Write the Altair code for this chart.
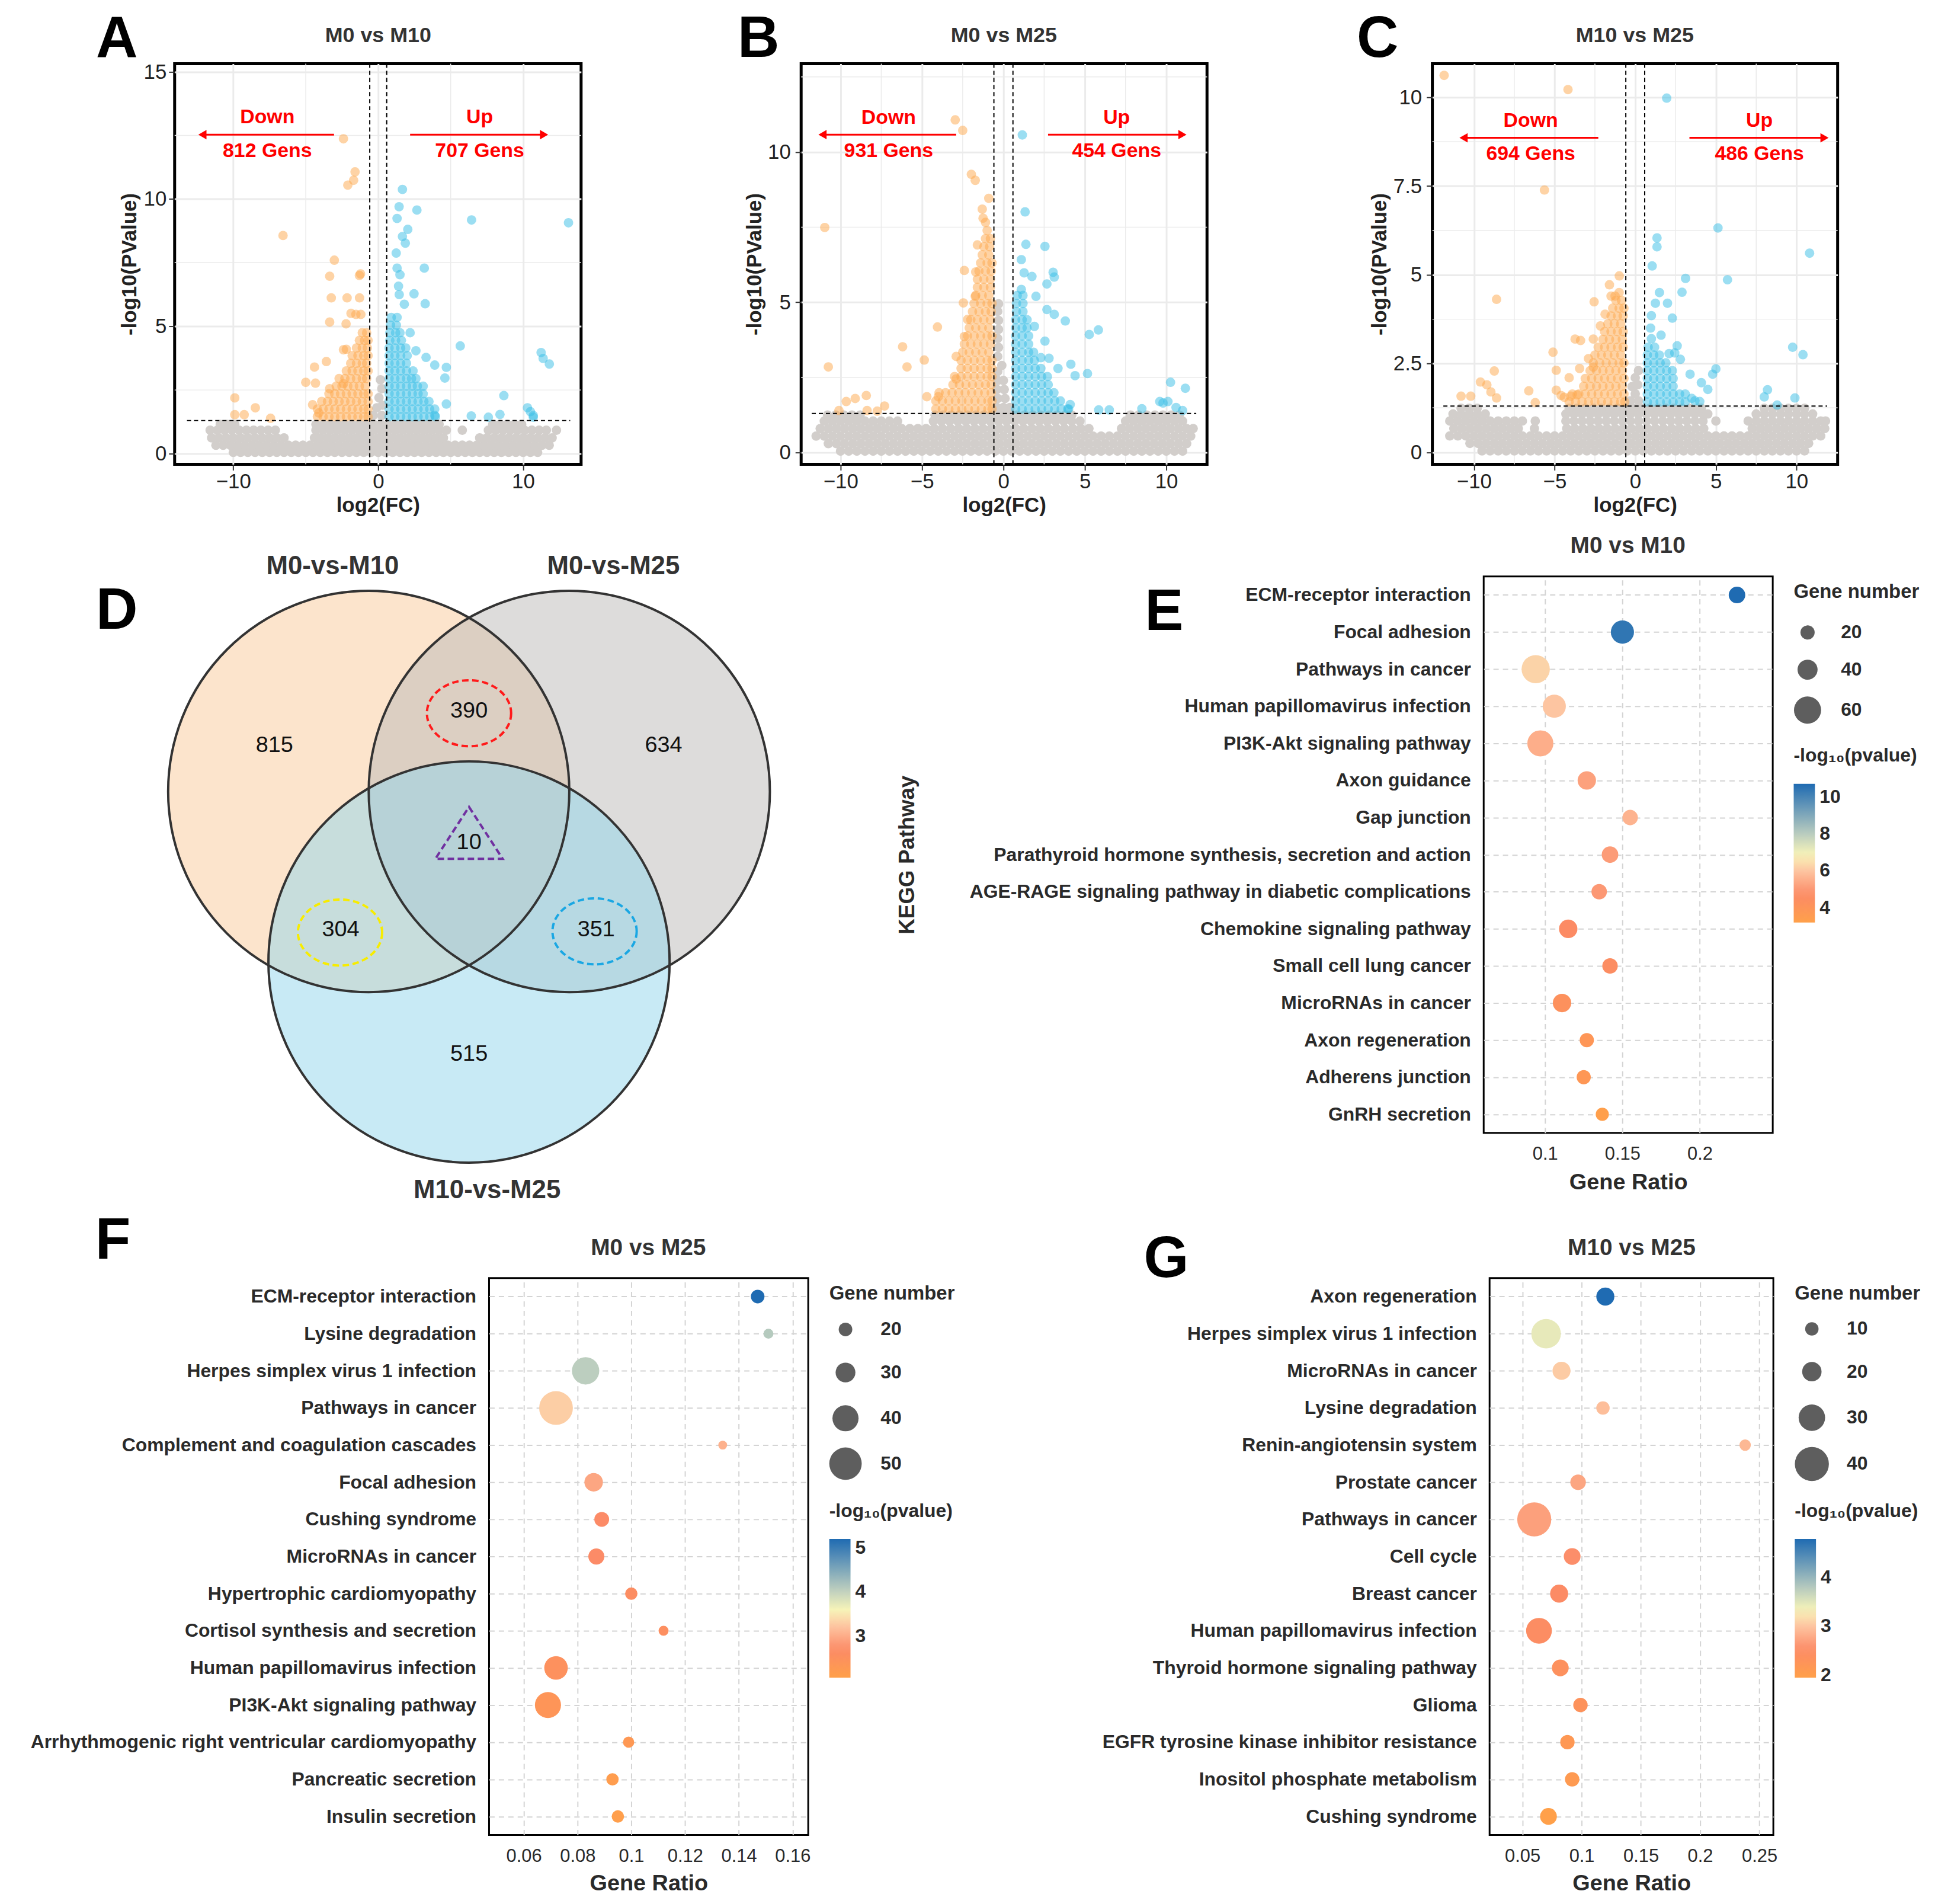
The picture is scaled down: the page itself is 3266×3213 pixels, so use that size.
import altair as alt
import pandas as pd

FONT = "Liberation Sans"
INK = "#2a2a2a"
GRAY, ORANGE, BLUE = "#D2CECB", "#FDA84C", "#38BDE6"
FC_CUT, P_CUT = 0.585, 1.301

# ======================= DATA =======================
# ---- Volcano A : M0 vs M10  (rows: -log10P -> list of log2FC) ----
A_gray_rows = {
    0.05: "-10 -9.5 -9 -8.5 -8 -7.5 -7 -6.5 -6 -5.5 -5 -4.5 -4 -3.5 -3 -2.5 -2 -1.5 -1 -0.5 0 0.5 1 1.5 2 2.5 3 3.5 4 4.5 5 5.5 6 6.5 7 7.5 8 8.5 9 9.5 10 10.5 11",
    0.33: "-11.2 -10.7 -10.2 -9.7 -9.2 -8.7 -8.2 -7.7 -7.2 -6.7 -6.2 -5.7 -5.2 -4.7 -4.2 -3.7 -3.2 -2.7 -2.2 -1.7 -1.2 -0.7 -0.2 0.3 0.8 1.3 1.8 2.3 2.8 3.3 3.8 4.3 4.8 5.3 5.8 6.3 6.8 7.3 7.8 8.3 8.8 9.3 9.8 10.3 10.8 11.3 11.8",
    0.62: "-11.5 -11 -10.5 -10 -9.5 -9 -8.5 -8 -7.5 -7 -6.5 -4.4 -4 -3.5 -3 -2.5 -2 -1.5 -1 -0.5 0 0.5 1 1.5 2 2.5 3 3.5 4 4.5 7 7.5 8 8.5 9 9.5 10 10.5 11 11.5 12",
    0.92: "-11.6 -11.1 -10.6 -10.1 -9.6 -9.1 -8.6 -8.1 -7.6 -7.1 -4.3 -3.8 -3.3 -2.8 -2.3 -1.8 -1.3 -0.8 -0.3 0.2 0.7 1.2 1.7 2.2 2.7 3.2 3.7 4.2 4.7 5.8 7.6 8.1 8.6 9.1 9.6 10.1 10.6 11.1 11.6 12.3",
    1.15: "-10.9 -10.4 -9.9 -4.3 -3.8 -3.3 -2.8 -2.3 -1.8 -1.3 -0.8 -0.3 0.2 0.7 1.2 1.7 2.2 2.7 3.2 3.7 4.2 7.9 8.4 8.9 9.4 9.9",
}
A_gray_pts = [(-0.35, 1.5), (0.25, 1.5), (-0.1, 1.8), (0.3, 1.9), (0.05, 2.2), (0.25, 2.55), (0.15, 2.9)]
A_down_rows = {
    1.45: "-4.2 -3.8 -3.4 -3 -2.6 -2.2 -1.8 -1.4 -1 -0.7",
    1.75: "-4.2 -3.8 -3.4 -3 -2.6 -2.2 -1.8 -1.4 -1 -0.7",
    2.05: "-3.9 -3.5 -3.1 -2.7 -2.3 -1.9 -1.5 -1.1 -0.7",
    2.35: "-3.4 -3 -2.6 -2.2 -1.8 -1.4 -1 -0.7",
    2.65: "-2.9 -2.5 -2.1 -1.7 -1.3 -0.9",
    2.95: "-2.7 -2.3 -1.9 -1.5 -1.1 -0.8",
    3.25: "-2.2 -1.8 -1.4 -1 -0.7",
    3.55: "-1.9 -1.5 -1.1 -0.8",
    3.85: "-1.8 -1.4 -1 -0.7",
    4.15: "-1.5 -1.1 -0.75",
    4.45: "-1.3 -0.95 -0.7",
    4.75: "-1.1 -0.8",
}
A_down_pts = [(-2.4, 12.37), (-1.6, 11.07), (-1.7, 10.74), (-2.1, 10.55), (-6.57, 8.57), (-3.03, 7.6), (-3.35, 6.97),
              (-1.22, 7.06), (-1.3, 7.0), (-3.24, 6.12), (-2.15, 6.12), (-1.29, 6.12), (-1.88, 5.51), (-1.54, 5.47),
              (-1.2, 5.47), (-3.35, 5.17), (-2.22, 5.1), (-2.4, 4.08), (-2.2, 4.1), (-3.58, 3.62), (-4.4, 3.4),
              (-5.0, 2.8), (-4.33, 2.77), (-2.4, 2.75), (-3.35, 2.55), (-9.9, 2.19), (-8.48, 1.8), (-9.9, 1.53),
              (-9.25, 1.53), (-7.43, 1.39), (-4.53, 1.92), (-4.1, 1.6)]
A_up_rows = {
    1.45: "0.75 1.15 1.55 1.95 2.35 2.75 3.15 3.55 3.95",
    1.75: "0.75 1.15 1.55 1.95 2.35 2.75 3.15 3.55 3.9",
    2.05: "0.75 1.15 1.55 1.95 2.35 2.75 3.15 3.5",
    2.35: "0.75 1.15 1.55 1.95 2.35 2.75 3.1",
    2.65: "0.75 1.15 1.55 1.95 2.35 2.7 3.1",
    2.95: "0.75 1.15 1.55 1.95 2.3 2.6",
    3.25: "0.75 1.15 1.55 1.95 2.4",
    3.55: "0.75 1.15 1.55 1.95",
    3.85: "0.75 1.15 1.55 2",
    4.15: "0.75 1.15 1.55 1.9",
    4.45: "0.8 1.2 1.6",
    4.75: "0.8 1.2 1.5",
    5.05: "0.85 1.25",
    5.35: "0.9 1.3",
}
A_up_pts = [(1.67, 10.38), (1.44, 9.7), (2.67, 9.57), (1.3, 9.24), (6.44, 9.18), (13.13, 9.07), (2.04, 8.81),
            (1.67, 8.53), (1.87, 8.27), (1.24, 7.88), (1.3, 7.29), (1.5, 7.03), (3.18, 7.29), (1.4, 6.58),
            (1.45, 6.25), (2.47, 6.28), (3.24, 5.89), (1.8, 5.87), (2.2, 4.75), (2.6, 4.04), (3.3, 3.78),
            (3.9, 3.48), (4.7, 3.39), (4.6, 2.97), (5.66, 4.23), (11.24, 3.97), (11.38, 3.74), (11.81, 3.52),
            (8.67, 2.28), (10.3, 1.8), (10.5, 1.65), (10.7, 1.5), (8.4, 1.54), (6.42, 1.48), (7.6, 1.43),
            (4.7, 1.95), (3.9, 1.5), (10.7, 1.43)]
A_labels = ["Down", "812 Gens", "Up", "707 Gens"]

# ---- Volcano B : M0 vs M25 ----
B_gray_rows = {
    0.05: "-10 -9.5 -9 -8.5 -8 -7.5 -7 -6.5 -6 -5.5 -5 -4.5 -4 -3.5 -3 -2.5 -2 -1.5 -1 -0.5 0 0.5 1 1.5 2 2.5 3 3.5 4 4.5 5 5.5 6 6.5 7 7.5 8 8.5 9 9.5 10 10.5 11",
    0.30: "-10.75 -10.25 -9.75 -9.25 -8.75 -8.25 -7.75 -7.25 -6.75 -6.25 -5.75 -5.25 -4.75 -4.25 -3.75 -3.25 -2.75 -2.25 -1.75 -1.25 -0.75 -0.25 0.25 0.75 1.25 1.75 2.25 2.75 3.25 3.75 4.25 4.75 5.25 5.75 6.25 6.75 7.25 7.75 8.25 8.75 9.25 9.75 10.25 10.75 11.25",
    0.55: "-11.5 -11 -10.5 -10 -9.5 -9 -8.5 -8 -7.5 -7 -6.5 -6 -5.5 -5 -4.5 -4 -3.5 -3 -2.5 -2 -1.5 -1 -0.5 0 0.5 1 1.5 2 2.5 3 3.5 4 4.5 5 5.5 6 6.5 7 7.5 8 8.5 9 9.5 10 10.5 11 11.5",
    0.80: "-11.25 -10.75 -10.25 -9.75 -9.25 -8.75 -8.25 -7.75 -7.25 -6.75 -6.25 -5.75 -5.25 -4.75 -4.25 -3.75 -3.25 -2.75 -2.25 -1.75 -1.25 -0.75 -0.25 0.25 0.75 1.25 1.75 2.25 2.75 3.25 3.75 4.25 4.75 5.25 7.25 7.75 8.25 8.75 9.25 9.75 10.25 10.75 11.25 11.65",
    1.05: "-11 -10.5 -10 -9.5 -9 -8.5 -8 -7.5 -7 -6.5 -4.3 -3.8 -3.3 -2.8 -2.3 -1.8 -1.3 -0.8 -0.3 0.2 0.7 1.2 1.7 2.2 2.7 3.2 3.7 4.2 4.7 7.5 8 8.5 9 9.5 10 10.5 11",
    1.25: "-10.8 -10.3 -9.8 -9.3 -8.8 -4.2 -3.7 -3.2 -2.7 -2.2 -1.7 -1.2 -0.7 -0.2 0.3 0.8 1.3 1.8 2.3 2.8 3.3 3.8 4.2 7.8 8.3 8.8 9.3 9.8 10.3 10.8",
}
B_gray_pts = [(-0.4, 1.5), (0.0, 1.5), (0.4, 1.5), (-0.35, 1.8), (0.1, 1.8), (-0.4, 2.1), (0.05, 2.1), (-0.35, 2.4),
              (0.0, 2.4), (-0.35, 2.7), (-0.1, 2.9), (-0.35, 3.2), (-0.3, 3.5), (-0.35, 3.8), (-0.3, 4.1),
              (-0.3, 4.4), (-0.35, 4.7), (-0.3, 4.95)]
B_down_rows = {
    1.45: "-4.15 -3.75 -3.35 -2.95 -2.55 -2.15 -1.75 -1.35 -0.95 -0.7",
    1.72: "-4.15 -3.75 -3.35 -2.95 -2.55 -2.15 -1.75 -1.35 -0.95 -0.7",
    1.99: "-3.95 -3.55 -3.15 -2.75 -2.35 -1.95 -1.55 -1.15 -0.75",
    2.26: "-3.1 -2.7 -2.3 -1.9 -1.5 -1.1 -0.75",
    2.53: "-3 -2.6 -2.2 -1.8 -1.4 -1 -0.7",
    2.80: "-2.6 -2.2 -1.8 -1.4 -1 -0.7",
    3.07: "-2.6 -2.2 -1.8 -1.4 -1 -0.7",
    3.34: "-2.5 -2.1 -1.7 -1.3 -0.9",
    3.61: "-2.4 -2 -1.6 -1.2 -0.8",
    3.88: "-2.2 -1.8 -1.4 -1 -0.7",
    4.15: "-2.1 -1.7 -1.3 -0.9",
    4.42: "-2 -1.6 -1.2 -0.8",
    4.69: "-1.9 -1.5 -1.1 -0.75",
    4.96: "-1.8 -1.4 -1 -0.7",
    5.23: "-1.7 -1.3 -0.9",
    5.50: "-1.6 -1.2 -0.8",
    5.77: "-1.6 -1.2 -0.8",
    6.04: "-1.5 -1.1 -0.75",
    6.31: "-1.4 -1 -0.7",
    6.58: "-1.3 -0.9",
    6.85: "-1.2 -0.85",
    7.12: "-1.1 -0.8",
    7.39: "-1",
    7.66: "-1.1",
}
B_down_pts = [(-2.96, 11.07), (-2.5, 10.72), (-10.97, 7.49), (-1.97, 9.26), (-1.73, 9.06), (-0.9, 8.46), (-1.3, 8.1),
              (-1.25, 7.8), (-1.6, 6.91), (-2.4, 6.06), (-1.7, 6.01), (-2.46, 4.98), (-1.73, 5.2), (-2.2, 4.43),
              (-4.05, 4.18), (-2.4, 3.86), (-6.19, 3.52), (-4.86, 3.08), (-5.92, 2.85), (-10.75, 2.85), (-2.9, 2.45),
              (-2.9, 3.2), (-4.7, 1.86), (-4.0, 1.86), (-8.42, 1.9), (-9.1, 1.8), (-9.65, 1.7), (-10.1, 1.4),
              (-8.37, 1.4), (-7.3, 1.55), (-7.75, 1.38)]
B_up_rows = {
    1.45: "0.75 1.15 1.55 1.95 2.35 2.75 3.15 3.55 3.95",
    1.72: "0.75 1.15 1.55 1.95 2.35 2.75 3.15 3.5",
    1.99: "0.75 1.15 1.55 1.95 2.35 2.75 3.1",
    2.26: "0.75 1.15 1.55 1.95 2.35 2.75",
    2.53: "0.75 1.15 1.55 1.95 2.35 2.7",
    2.80: "0.75 1.15 1.55 1.95 2.3",
    3.07: "0.75 1.15 1.55 1.9",
    3.34: "0.75 1.15 1.55 1.85",
    3.61: "0.75 1.15 1.55",
    3.88: "0.75 1.15 1.55",
    4.15: "0.75 1.15 1.45",
    4.42: "0.75 1.15 1.45",
    4.69: "0.8 1.2",
    4.96: "0.8 1.2",
    5.23: "0.85 1.2",
}
B_up_pts = [(1.16, 10.57), (1.33, 8.01), (1.38, 6.93), (2.55, 6.86), (1.1, 6.42), (1.27, 5.98), (1.75, 5.86),
            (2.67, 5.61), (3.05, 6.0), (3.12, 5.84), (1.1, 5.43), (2.0, 5.2), (2.67, 4.76), (3.12, 4.6), (3.8, 4.38),
            (1.9, 4.2), (5.27, 3.93), (5.83, 4.08), (2.55, 3.71), (2.3, 3.16), (2.8, 3.14), (3.35, 2.8), (4.14, 2.94),
            (4.4, 2.56), (5.16, 2.63), (10.26, 2.34), (11.17, 2.14), (10.1, 1.7), (9.6, 1.7), (9.8, 1.65), (8.5, 1.46),
            (6.5, 1.42), (5.85, 1.42), (4.1, 1.6), (4.0, 1.45), (10.6, 1.5), (11.0, 1.4)]
B_labels = ["Down", "931 Gens", "Up", "454 Gens"]

# ---- Volcano C : M10 vs M25 ----
C_gray_rows = {
    0.04: "-9.5 -9 -8.5 -8 -7.5 -7 -6.5 -6 -5.5 -5 -4.5 -4 -3.5 -3 -2.5 -2 -1.5 -1 -0.5 0 0.5 1 1.5 2 2.5 3 3.5 4 4.5 5 5.5 6 6.5 7 7.5 8 8.5 9 9.5 10 10.5",
    0.25: "-10.25 -9.75 -9.25 -8.75 -8.25 -7.75 -7.25 -6.75 -6.25 -5.75 -5.25 -4.75 -4.25 -3.75 -3.25 -2.75 -2.25 -1.75 -1.25 -0.75 -0.25 0.25 0.75 1.25 1.75 2.25 2.75 3.25 3.75 4.25 4.75 5.25 5.75 6.25 6.75 7.25 7.75 8.25 8.75 9.25 9.75 10.25 10.75",
    0.46: "-11.5 -11 -10.5 -10 -9.5 -9 -8.5 -8 -7.5 -7 -6.5 -6 -5.5 -5 -4.5 -4 -3.5 -3 -2.5 -2 -1.5 -1 -0.5 0 0.5 1 1.5 2 2.5 3 3.5 4 4.5 5 5.5 6 6.5 7 7.5 8 8.5 9 9.5 10 10.5 11 11.5",
    0.67: "-11.25 -10.75 -10.25 -9.75 -9.25 -8.75 -8.25 -7.75 -7.25 -6.25 -4.25 -3.75 -3.25 -2.75 -2.25 -1.75 -1.25 -0.75 -0.25 0.25 0.75 1.25 1.75 2.25 2.75 3.25 3.75 4.25 7.25 7.75 8.25 8.75 9.25 9.75 10.25 10.75 11.25 11.75",
    0.88: "-11.5 -11 -10.5 -10 -9.5 -9 -8.5 -8 -7.5 -7 -6.2 -4.3 -3.8 -3.3 -2.8 -2.3 -1.8 -1.3 -0.8 -0.3 0.2 0.7 1.2 1.7 2.2 2.7 3.2 3.7 4.2 5 7 7.5 8 8.5 9 9.5 10 10.5 11 11.5 11.8",
    1.08: "-11.3 -10.8 -10.3 -9.8 -9.3 -4.3 -3.8 -3.3 -2.8 -2.3 -1.8 -1.3 -0.8 -0.3 0.2 0.7 1.2 1.7 2.2 2.7 3.2 3.7 4.2 4.5 7.5 8 8.5 9 9.5 10 10.5 11",
    1.24: "-10.8 -10.3 -9.8 -4.1 -3.6 -3.1 -2.6 -2.1 -1.6 -1.1 -0.6 -0.1 0.4 0.9 1.4 1.9 2.4 2.9 3.4 3.9 4.1 8 8.5 9 9.5 10 10.5",
}
C_gray_pts = [(-0.3, 1.45), (0.2, 1.45), (0.0, 1.65), (-0.2, 1.85), (0.15, 1.9), (0.0, 2.1), (0.2, 2.3)]
C_down_rows = {
    1.42: "-4.1 -3.7 -3.3 -2.9 -2.5 -2.1 -1.7 -1.3 -0.9 -0.65",
    1.64: "-3.9 -3.5 -3.1 -2.7 -2.3 -1.9 -1.5 -1.1 -0.7",
    1.86: "-3.2 -2.8 -2.4 -2 -1.6 -1.2 -0.8",
    2.08: "-3.1 -2.7 -2.3 -1.9 -1.5 -1.1 -0.7",
    2.30: "-2.8 -2.4 -2 -1.6 -1.2 -0.8",
    2.52: "-2.6 -2.2 -1.8 -1.4 -1 -0.7",
    2.74: "-2.5 -2.1 -1.7 -1.3 -0.9",
    2.96: "-2.3 -1.9 -1.5 -1.1 -0.75",
    3.18: "-2 -1.6 -1.2 -0.8",
    3.40: "-1.9 -1.5 -1.1 -0.75",
    3.62: "-1.7 -1.3 -0.9",
    3.84: "-1.5 -1.1 -0.75",
    4.06: "-1.4 -1 -0.7",
    4.28: "-1.2 -0.85",
    4.50: "-1",
}
C_down_pts = [(-11.85, 10.62), (-4.17, 10.22), (-5.63, 7.39), (-8.6, 4.31), (-0.99, 4.97), (-1.6, 4.72), (-1.5, 4.4),
              (-2.55, 4.24), (-1.25, 4.4), (-1.87, 3.89), (-2.16, 3.56), (-3.73, 3.19), (-3.39, 3.15), (-2.6, 3.19),
              (-5.1, 2.82), (-2.9, 2.64), (-2.6, 2.4), (-4.9, 2.31), (-3.45, 2.36), (-4.1, 2.1), (-8.74, 2.29),
              (-9.6, 1.98), (-9.2, 1.9), (-8.95, 1.7), (-10.8, 1.58), (-10.2, 1.58), (-8.6, 1.53), (-6.6, 1.73),
              (-6.2, 1.4), (-4.9, 1.75), (-4.6, 1.6), (-4.4, 1.55), (-4.0, 1.58), (-3.6, 1.62)]
C_up_rows = {
    1.42: "0.75 1.15 1.55 1.95 2.35 2.75 3.1",
    1.64: "0.75 1.15 1.55 1.95 2.35 2.75 3.1",
    1.86: "0.75 1.15 1.55 1.95 2.35",
    2.08: "0.75 1.15 1.55 1.95 2.35",
    2.30: "0.75 1.15 1.55 1.95 2.3",
    2.52: "0.75 1.15 1.55 1.9",
    2.74: "0.75 1.15 1.5",
    2.96: "0.8 1.2",
}
C_up_pts = [(1.95, 9.98), (5.13, 6.32), (1.35, 6.04), (1.35, 5.79), (10.81, 5.61), (1.05, 5.25), (5.72, 4.86),
            (3.12, 4.9), (2.9, 4.51), (1.25, 4.2), (1.5, 4.5), (2.0, 4.2), (2.3, 3.78), (1.0, 3.85), (0.95, 3.5),
            (1.0, 3.2), (1.6, 3.3), (2.6, 3.0), (2.45, 2.8), (2.1, 2.78), (2.8, 2.62), (3.4, 2.2), (4.1, 1.96),
            (5.0, 2.35), (4.8, 2.2), (4.5, 1.77), (4.0, 1.43), (3.5, 1.52), (3.7, 1.45), (9.76, 2.96), (10.4, 2.75),
            (8.2, 1.76), (8.0, 1.56), (9.9, 1.53), (8.8, 1.33)]
C_labels = ["Down", "694 Gens", "Up", "486 Gens"]

# ---- Venn D ----
venn_sets = ["M0-vs-M10", "M0-vs-M25", "M10-vs-M25"]
venn_region_counts = ["815", "390", "634", "10", "304", "351", "515"]

# ---- KEGG dot plots ----
E_terms = ["ECM-receptor interaction", "Focal adhesion", "Pathways in cancer", "Human papillomavirus infection",
           "PI3K-Akt signaling pathway", "Axon guidance", "Gap junction",
           "Parathyroid hormone synthesis, secretion and action",
           "AGE-RAGE signaling pathway in diabetic complications", "Chemokine signaling pathway",
           "Small cell lung cancer", "MicroRNAs in cancer", "Axon regeneration", "Adherens junction", "GnRH secretion"]
E_ratio = [0.224, 0.150, 0.094, 0.106, 0.097, 0.127, 0.155, 0.142, 0.135, 0.115, 0.142, 0.111, 0.127, 0.125, 0.137]
E_count = [29, 49, 63, 49, 57, 35, 25, 29, 25, 35, 25, 35, 20, 20, 15]
E_logp = [10.7, 10.4, 6.25, 6.0, 5.5, 5.2, 5.6, 5.1, 5.0, 4.6, 4.5, 4.2, 3.9, 3.8, 3.25]

F_terms = ["ECM-receptor interaction", "Lysine degradation", "Herpes simplex virus 1 infection", "Pathways in cancer",
           "Complement and coagulation cascades", "Focal adhesion", "Cushing syndrome", "MicroRNAs in cancer",
           "Hypertrophic cardiomyopathy", "Cortisol synthesis and secretion", "Human papillomavirus infection",
           "PI3K-Akt signaling pathway", "Arrhythmogenic right ventricular cardiomyopathy", "Pancreatic secretion",
           "Insulin secretion"]
F_ratio = [0.147, 0.151, 0.083, 0.072, 0.134, 0.086, 0.089, 0.087, 0.100, 0.112, 0.072, 0.069, 0.099, 0.093, 0.095]
F_count = [20, 14, 42, 52, 12, 28, 22, 24, 18, 14, 36, 40, 16, 18, 18]
F_logp = [5.2, 4.1, 4.05, 3.3, 3.05, 2.95, 2.7, 2.7, 2.6, 2.55, 2.5, 2.37, 2.28, 2.15, 2.1]

G_terms = ["Axon regeneration", "Herpes simplex virus 1 infection", "MicroRNAs in cancer", "Lysine degradation",
           "Renin-angiotensin system", "Prostate cancer", "Pathways in cancer", "Cell cycle", "Breast cancer",
           "Human papillomavirus infection", "Thyroid hormone signaling pathway", "Glioma",
           "EGFR tyrosine kinase inhibitor resistance", "Inositol phosphate metabolism", "Cushing syndrome"]
G_ratio = [0.120, 0.070, 0.083, 0.118, 0.238, 0.097, 0.060, 0.092, 0.081, 0.064, 0.082, 0.099, 0.088, 0.092, 0.072]
G_count = [18, 34, 18, 10, 5, 14, 40, 16, 18, 29, 16, 12, 12, 12, 16]
G_logp = [4.79, 3.45, 3.05, 2.95, 2.9, 2.75, 2.7, 2.55, 2.5, 2.45, 2.35, 2.3, 2.15, 2.1, 1.96]

# ======================= STYLE / LAYOUT =======================
CB_POS = [0.0, 0.2, 0.37, 0.486, 0.634, 1.0]
CB_COL = ["#FFA04A", "#FC8A66", "#FDC4A0", "#F8F4B8", "#BCCEBF", "#1F6BB2"]
NUMFMT = "format(datum.value, '')"
TOP = 16          # top edge of the first row box
RIGHT = 3251      # right edge of the layout boxes
BOTTOM = 3190     # bottom edge of the last row (keeps the page inside the 3213 px window)

PA = dict(plot=(291, 105.5), w=689, h=679, box=(14, TOP, 1100, 880), xdom=[-14.05, 14.0], ydom=[-0.42, 15.32],
          xticks=[-10, 0, 10], xminor=[-5, 5], yticks=[0, 5, 10, 15], yminor=[2.5, 7.5, 12.5], hx=[-13.2, 13.25],
          lpad=4, ytx=-77, letter="A", letter_at=(193, 59), title="M0 vs M10", title_at=(636, 58),
          arrow_y=12.53, down=(-3.05, -12.46), up=(2.2, 11.77), tx=(-7.65, 7.0), ty=(13.2, 11.88))
PB = dict(plot=(1346.4, 105.5), w=688, h=679, box=(1100, TOP, 2150, 880), xdom=[-12.42, 12.5], ydom=[-0.39, 12.94],
          xticks=[-10, -5, 0, 5, 10], xminor=[-7.5, -2.5, 2.5, 7.5], yticks=[0, 5, 10], yminor=[2.5, 7.5, 12.5],
          hx=[-11.77, 11.84], lpad=8, ytx=-79, letter="B", letter_at=(1274, 59), title="M0 vs M25",
          title_at=(1690, 58), arrow_y=10.58, down=(-2.9, -11.4), up=(2.74, 11.28), tx=(-7.05, 6.95), ty=(11.13, 10.03))
PC = dict(plot=(2409.8, 105.5), w=687, h=679, box=(2150, TOP, RIGHT, 880), xdom=[-12.58, 12.55], ydom=[-0.34, 10.95],
          xticks=[-10, -5, 0, 5, 10], xminor=[-7.5, -2.5, 2.5, 7.5], yticks=[0, 2.5, 5, 7.5, 10],
          yminor=[1.25, 3.75, 6.25, 8.75], hx=[-11.9, 11.9], lpad=8, ytx=-89, letter="C", letter_at=(2317, 59),
          title="M10 vs M25", title_at=(2753, 58), arrow_y=8.86, down=(-2.29, -10.94), up=(3.36, 12.03),
          tx=(-6.48, 7.7), ty=(9.33, 8.41))
# Venn plot top aligned with panel E plot top (969.5); circle geometry in units of radius (340 px)
PD = dict(plot=(281.5, 969.5), w=1020, h=993.5, ydom=[-1.85, 1.072], box=(14, 880, 1480, 2040), letter="D",
          letter_at=(194.6, 1023))
PE = dict(plot=(2507.5, 969.5), w=490, h=943, box=(1480, 880, RIGHT, 2040), xdom=[0.0604, 0.2471],
          xticks=[0.1, 0.15, 0.2], letter="E", letter_at=(1965.8, 1025), title="M0 vs M10", title_at=(2752, 918),
          ytitle="KEGG Pathway", ytitle_x=1531, sleg=(3033, 979.5), cleg=(3033, 1258), sdom=[15, 64],
          srng=[492, 2355], svals=[20, 40, 60], cdom=[3.2, 10.7], cvals=[4, 6, 8, 10], loff=33, rpad=15, tpad=36,
          ctpad=31, xty=84)
PF = dict(plot=(825, 2153.8), w=541, h=944, box=(14, 2040, 1650, BOTTOM), xdom=[0.0471, 0.1658],
          xticks=[0.06, 0.08, 0.1, 0.12, 0.14, 0.16], letter="F", letter_at=(187.3, 2086), title="M0 vs M25",
          title_at=(1095, 2103.4), sleg=(1401.7, 2164), cleg=(1401.7, 2534), sdom=[12, 52], srng=[225, 3267],
          svals=[20, 30, 40, 50], cdom=[2.06, 5.2], cvals=[3, 4, 5], loff=32, rpad=17, tpad=28, ctpad=30, xty=82)
PG = dict(plot=(2516.7, 2153.8), w=481, h=944, box=(1650, 2040, RIGHT, BOTTOM), xdom=[0.0223, 0.2618],
          xticks=[0.05, 0.1, 0.15, 0.2, 0.25], letter="G", letter_at=(1968.5, 2117), title="M10 vs M25",
          title_at=(2757.5, 2103), sleg=(3034, 2164), cleg=(3034, 2534), sdom=[5, 40], srng=[374, 3329],
          svals=[10, 20, 30, 40], cdom=[1.95, 4.79], cvals=[2, 3, 4], loff=30, rpad=14, tpad=27, ctpad=30, xty=82)

ONE = pd.DataFrame({"k": [0]})


def rows_df(rows, extra):
    pts = [(float(x), y) for y, s in rows.items() for x in s.split()] + list(extra)
    return pd.DataFrame(pts, columns=["x", "y"])


def invisible(x, y):
    return alt.Chart(ONE).mark_text(text=".", fontSize=1, opacity=0).encode(x=alt.value(x), y=alt.value(y))


def bound_markers(P):
    px, py = P["plot"]
    x1, y1, x2, y2 = P["box"]
    return [invisible(x1 - px, y1 - py), invisible(x2 - px, y2 - py)]


def spacer():
    return invisible(0, 0).properties(width=1, height=1)


def free_text(P, txt, at, **kw):
    px, py = P["plot"]
    return alt.Chart(ONE).mark_text(text=txt, baseline="middle", align="center", font=FONT, **kw).encode(
        x=alt.value(at[0] - px), y=alt.value(at[1] - py))


def letter_text(P):
    # panel letter: positioned by its cap centre, drawn on the alphabetic baseline
    px, py = P["plot"]
    fs = 98
    cx, cy = P["letter_at"]
    return alt.Chart(ONE).mark_text(text=P["letter"], baseline="alphabetic", align="center", font=FONT,
                                    fontSize=fs, fontWeight="bold", color="black").encode(
        x=alt.value(cx - px), y=alt.value(cy + 0.358 * fs - py))


def volcano(gray_rows, gray_pts, down_rows, down_pts, up_rows, up_pts, labels, P):
    w, h = P["w"], P["h"]
    xs = alt.Scale(domain=P["xdom"], nice=False, zero=False)
    ys = alt.Scale(domain=P["ydom"], nice=False, zero=False)
    common = dict(grid=True, gridColor="#EBEBEB", gridWidth=3, domain=False, ticks=True, tickSize=10, tickWidth=2,
                  tickColor="#333333", labelFont=FONT, labelFontSize=35, labelColor="#222222", titleFont=FONT,
                  titleFontSize=35, titleFontWeight="bold", titleColor="#222222", titleBaseline="middle",
                  labelExpr=NUMFMT, labelFlush=False)
    X = alt.X("x:Q", scale=xs, axis=alt.Axis(values=P["xticks"], title="log2(FC)", labelPadding=2,
                                             titleX=w / 2, titleY=69, **common))
    Y = alt.Y("y:Q", scale=ys, axis=alt.Axis(values=P["yticks"], title="-log10(PValue)", labelPadding=P["lpad"],
                                             titleAngle=-90, titleX=P["ytx"], titleY=h / 2, **common))
    ppu = w / (P["xdom"][1] - P["xdom"][0])
    off = 8 / ppu
    L = []
    L.append(alt.Chart(pd.DataFrame({"x": P["xminor"]})).mark_rule(color="#EBEBEB", strokeWidth=1.5).encode(x=X))
    L.append(alt.Chart(pd.DataFrame({"y": P["yminor"]})).mark_rule(color="#EBEBEB", strokeWidth=1.5).encode(y=Y))
    L.append(alt.Chart(rows_df(gray_rows, gray_pts)).mark_circle(size=256, color=GRAY, opacity=1).encode(x=X, y=Y))
    L.append(alt.Chart(rows_df(down_rows, down_pts)).mark_circle(size=256, color=ORANGE, opacity=0.5).encode(x=X, y=Y))
    L.append(alt.Chart(rows_df(up_rows, up_pts)).mark_circle(size=256, color=BLUE, opacity=0.5).encode(x=X, y=Y))
    L.append(alt.Chart(pd.DataFrame({"x": [-FC_CUT, FC_CUT]})).mark_rule(
        color="black", strokeWidth=2, strokeDash=[7, 5]).encode(x=X))
    L.append(alt.Chart(pd.DataFrame({"x": [P["hx"][0]], "x2": [P["hx"][1]], "y": [P_CUT]})).mark_rule(
        color="black", strokeWidth=2, strokeDash=[7, 5]).encode(x=X, x2="x2:Q", y=Y))
    ay = P["arrow_y"]
    arr = pd.DataFrame({"x": [P["down"][0], P["up"][0]], "x2": [P["down"][1] + off, P["up"][1] - off], "y": [ay, ay]})
    L.append(alt.Chart(arr).mark_rule(color="#FF0000", strokeWidth=3).encode(x=X, x2="x2:Q", y=Y))
    heads = pd.DataFrame({"x": [P["down"][1] + off, P["up"][1] - off], "y": [ay, ay], "d": ["L", "R"]})
    L.append(alt.Chart(heads).mark_point(filled=True, color="#FF0000", opacity=1, size=256).encode(
        x=X, y=Y, shape=alt.Shape("d:N", scale=alt.Scale(domain=["L", "R"], range=["triangle-left", "triangle-right"]),
                                  legend=None)))
    txt = pd.DataFrame({"x": [P["tx"][0], P["tx"][0], P["tx"][1], P["tx"][1]],
                        "y": [P["ty"][0], P["ty"][1], P["ty"][0], P["ty"][1]], "t": labels})
    L.append(alt.Chart(txt).mark_text(color="#FF0000", font=FONT, fontSize=34, fontWeight="bold",
                                      baseline="middle").encode(x=X, y=Y, text="t:N"))
    L.append(free_text(P, P["title"], P["title_at"], fontSize=36, fontWeight="bold", color="#333333"))
    L.append(letter_text(P))
    L += bound_markers(P)
    return alt.layer(*L).properties(width=w, height=h, view=alt.ViewBackground(stroke="black", strokeWidth=5))


ELLIPSE = ("M 1 0 C 1 0.433 0.552 0.784 0 0.784 C -0.552 0.784 -1 0.433 -1 0 "
           "C -1 -0.433 -0.552 -0.784 0 -0.784 C 0.552 -0.784 1 -0.433 1 0 Z")
TRIANGLE = "M 0 -0.772 L 1 0.772 L -1 0.772 Z"


def venn(P):
    w, h = P["w"], P["h"]
    xs = alt.Scale(domain=[-1.5, 1.5], nice=False, zero=False)
    ys = alt.Scale(domain=P["ydom"], nice=False, zero=False)
    X = alt.X("cx:Q", scale=xs, axis=None)
    Y = alt.Y("cy:Q", scale=ys, axis=None)
    unit = w / 3.0
    csize = (2 * unit) ** 2
    sets = pd.DataFrame({"set": venn_sets, "cx": [-0.5, 0.5, 0.0], "cy": [0.0, 0.0, -0.85]})
    L = []
    L.append(alt.Chart(sets).mark_point(shape="circle", filled=True, size=csize, opacity=1, fillOpacity=0.5,
                                        strokeWidth=0).encode(
        x=X, y=Y, fill=alt.Fill("set:N", scale=alt.Scale(domain=venn_sets, range=["#F9C999", "#BBB9B7", "#91D5EB"]),
                                legend=None)))
    L.append(alt.Chart(sets).mark_point(shape="circle", filled=False, size=csize, opacity=1, color="#333333",
                                        strokeWidth=4).encode(x=X, y=Y))
    hl = pd.DataFrame({"hl": ["a", "b", "c"], "cx": [0.0, -0.643, 0.626], "cy": [0.39, -0.703, -0.697]})
    L.append(alt.Chart(hl).mark_point(shape=ELLIPSE, filled=False, size=(0.42 * unit) ** 2, opacity=1,
                                      strokeWidth=4, strokeDash=[11, 6]).encode(
        x=X, y=Y, stroke=alt.Stroke("hl:N", scale=alt.Scale(domain=["a", "b", "c"],
                                                            range=["#FF1A1A", "#F7EC00", "#1AA7E3"]), legend=None)))
    L.append(alt.Chart(pd.DataFrame({"cx": [0.0], "cy": [-0.206]})).mark_point(
        shape=TRIANGLE, filled=False, size=(0.335 * unit) ** 2, opacity=1, strokeWidth=4, strokeDash=[11, 6],
        color="#7030A0").encode(x=X, y=Y))
    nums = pd.DataFrame({"lab": venn_region_counts, "cx": [-0.97, 0.0, 0.97, 0.0, -0.64, 0.634, 0.0],
                         "cy": [0.23, 0.40, 0.23, -0.255, -0.69, -0.69, -1.31]})
    L.append(alt.Chart(nums).mark_text(font=FONT, fontSize=38, color="#111111", baseline="middle").encode(
        x=X, y=Y, text="lab:N"))
    labs = pd.DataFrame({"lab": venn_sets, "cx": [-0.68, 0.72, 0.09], "cy": [1.12, 1.12, -1.99]})
    L.append(alt.Chart(labs).mark_text(font=FONT, fontSize=44, fontWeight="bold", color="#333333",
                                       baseline="middle").encode(x=X, y=Y, text="lab:N"))
    L.append(letter_text(P))
    L += bound_markers(P)
    return alt.layer(*L).properties(width=w, height=h, view=alt.ViewBackground(stroke="transparent"))


def dotplot(terms, ratio, count, logp, P):
    w, h = P["w"], P["h"]
    px, py = P["plot"]
    df = pd.DataFrame({"term": terms, "ratio": ratio, "count": count, "logp": logp})
    lo, hi = P["cdom"]
    stops = [lo + f * (hi - lo) for f in CB_POS]
    xkw = dict(values=P["xticks"], labelExpr=NUMFMT, title="Gene Ratio", grid=True, gridDash=[9, 7],
               gridColor="#D4D4D4", gridWidth=2, domain=False, ticks=False, labelFont=FONT, labelFontSize=31,
               labelColor=INK, labelPadding=21, titleFont=FONT, titleFontSize=38, titleFontWeight="bold",
               titleColor=INK, titleBaseline="middle", titleY=P["xty"], titleX=w / 2, labelFlush=False)
    ykw = dict(grid=True, gridDash=[9, 7], gridColor="#D4D4D4", gridWidth=2, domain=False, ticks=False,
               labelFont=FONT, labelFontSize=32, labelFontWeight="bold", labelColor=INK, labelPadding=22,
               labelLimit=2000)
    if "ytitle" in P:
        ykw.update(title=P["ytitle"], titleFont=FONT, titleFontSize=37, titleFontWeight="bold", titleColor=INK,
                   titleAngle=-90, titleBaseline="middle", titleX=P["ytitle_x"] - px, titleY=h / 2)
    else:
        ykw.update(title=None)
    sl = dict(title="Gene number", orient="none", legendX=P["sleg"][0] - px, legendY=P["sleg"][1] - py,
              values=P["svals"], direction="vertical", symbolType="circle", symbolFillColor="#5E5E5E",
              symbolStrokeWidth=0, symbolOpacity=1, titleFont=FONT, titleFontSize=33, titleFontWeight="bold",
              titleColor=INK, titleLimit=500, titlePadding=P["tpad"], labelFont=FONT, labelFontSize=32,
              labelFontWeight="bold", labelColor=INK, labelOffset=P["loff"], rowPadding=P["rpad"],
              gridAlign="all")
    cl = dict(title="-log\u2081\u2080(pvalue)", orient="none", legendX=P["cleg"][0] - px, legendY=P["cleg"][1] - py,
              values=P["cvals"], direction="vertical", gradientLength=235, gradientThickness=36,
              gradientStrokeWidth=0, titleFont=FONT, titleFontSize=32, titleFontWeight="bold", titleColor=INK,
              titleLimit=500, titlePadding=P["ctpad"], labelFont=FONT, labelFontSize=32, labelFontWeight="bold",
              labelColor=INK, labelOffset=8, labelOverlap=False)
    pts = alt.Chart(df).mark_circle(opacity=1).encode(
        x=alt.X("ratio:Q", scale=alt.Scale(domain=P["xdom"], nice=False, zero=False), axis=alt.Axis(**xkw)),
        y=alt.Y("term:N", sort=terms, scale=alt.Scale(type="point", padding=0.5), axis=alt.Axis(**ykw)),
        size=alt.Size("count:Q", scale=alt.Scale(type="pow", exponent=2, domain=P["sdom"], range=P["srng"]),
                      legend=alt.Legend(**sl)),
        color=alt.Color("logp:Q", scale=alt.Scale(domain=stops, range=CB_COL, interpolate="rgb"),
                        legend=alt.Legend(**cl)),
    )
    L = [pts,
         free_text(P, P["title"], P["title_at"], fontSize=39, fontWeight="bold", color="#333333"),
         letter_text(P)]
    L += bound_markers(P)
    return alt.layer(*L).properties(width=w, height=h, view=alt.ViewBackground(stroke="black", strokeWidth=3))


A = volcano(A_gray_rows, A_gray_pts, A_down_rows, A_down_pts, A_up_rows, A_up_pts, A_labels, PA)
B = volcano(B_gray_rows, B_gray_pts, B_down_rows, B_down_pts, B_up_rows, B_up_pts, B_labels, PB)
C = volcano(C_gray_rows, C_gray_pts, C_down_rows, C_down_pts, C_up_rows, C_up_pts, C_labels, PC)
D = venn(PD)
E = dotplot(E_terms, E_ratio, E_count, E_logp, PE)
F = dotplot(F_terms, F_ratio, F_count, F_logp, PF)
G = dotplot(G_terms, G_ratio, G_count, G_logp, PG)

RES = dict(x="independent", y="independent", color="independent", size="independent", shape="independent",
           fill="independent", stroke="independent")
# a 1-px spacer starts every row so that all rows share the same left origin
row1 = alt.hconcat(spacer(), A, B, C, spacing=0).resolve_scale(**RES)
row2 = alt.hconcat(spacer(), D, E, spacing=0).resolve_scale(**RES)
row3 = alt.hconcat(spacer(), F, G, spacing=0).resolve_scale(**RES)
chart = alt.vconcat(row1, row2, row3, spacing=0,
                    padding={"left": 5, "top": 0, "right": 0, "bottom": 0}).resolve_scale(**RES).configure(
    font=FONT).configure_view(stroke="transparent")

chart.save("out.html", embed_options={"renderer": "svg", "actions": False})
